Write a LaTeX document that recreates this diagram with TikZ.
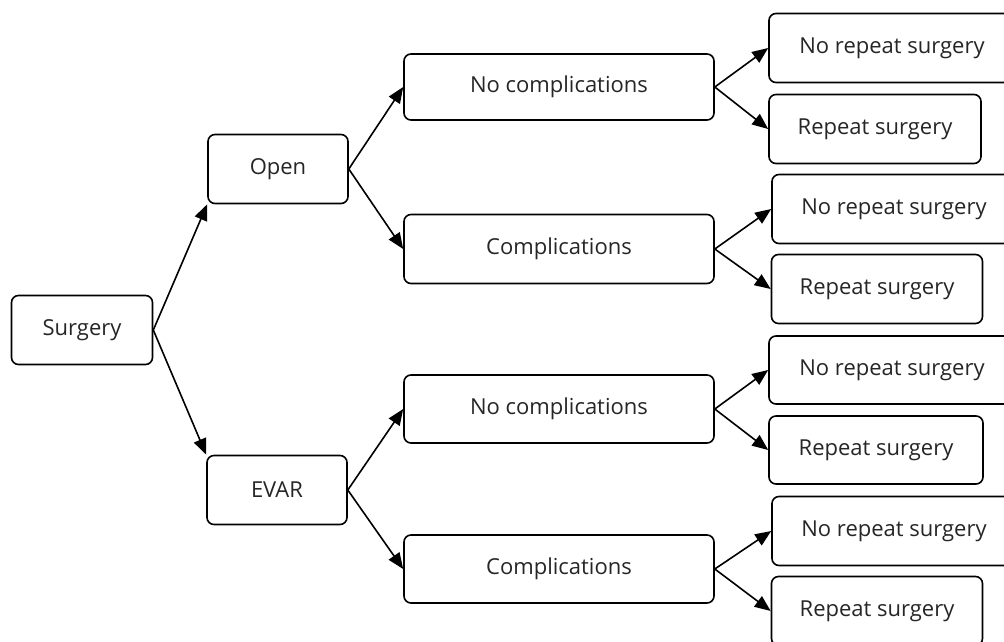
\documentclass[tikz,border=0pt]{standalone}
\usepackage{fontspec}
\setmainfont{Open Sans}
\usetikzlibrary{arrows.meta}
\begin{document}
\begin{tikzpicture}[x=1pt,y=-1pt,
  box/.style={draw=black,line width=1.6pt,rounded corners=7pt,fill=white,inner sep=0pt,
    font=\fontsize{22}{26}\selectfont,text=black!85},
  conn/.style={line width=1.6pt,-{Triangle[length=16pt,width=13pt]}}]
\useasboundingbox (0,0) rectangle (1004,641);
\clip (0,0) rectangle (1004,641);
% level 0
\node[box,minimum width=141pt,minimum height=69pt] (s) at (82,330) {Surgery};
% level 1
\node[box,minimum width=140pt,minimum height=69pt] (open) at (278,169) {Open};
\node[box,minimum width=140pt,minimum height=69pt] (evar) at (277,490) {EVAR};
% level 2
\node[box,minimum width=310pt,minimum height=66pt] (nc1) at (559,87) {No complications};
\node[box,minimum width=310pt,minimum height=69pt] (c1) at (559,249) {Complications};
\node[box,minimum width=310pt,minimum height=68pt] (nc2) at (559,409) {No complications};
\node[box,minimum width=310pt,minimum height=68pt] (c2) at (559,569) {Complications};
% level 3
\node[box,minimum width=246pt,minimum height=69pt] (nr1) at (892,48) {No repeat surgery};
\node[box,minimum width=212pt,minimum height=69pt] (r1) at (875,129) {Repeat surgery};
\node[box,minimum width=244pt,minimum height=69pt] (nr2) at (894,209) {No repeat surgery};
\node[box,minimum width=211pt,minimum height=69pt] (r2) at (877,289) {Repeat surgery};
\node[box,minimum width=246pt,minimum height=68pt] (nr3) at (892,370) {No repeat surgery};
\node[box,minimum width=214pt,minimum height=68pt] (r3) at (876,450) {Repeat surgery};
\node[box,minimum width=244pt,minimum height=69pt] (nr4) at (894,531) {No repeat surgery};
\node[box,minimum width=211pt,minimum height=69pt] (r4) at (877,611) {Repeat surgery};
% connectors
\draw[conn] (s.east) -- (open.south west);
\draw[conn] (s.east) -- (evar.north west);
\draw[conn] (open.east) -- (nc1.west);
\draw[conn] (open.east) -- (c1.west);
\draw[conn] (evar.east) -- (nc2.west);
\draw[conn] (evar.east) -- (c2.west);
\draw[conn] (nc1.east) -- (nr1.west);
\draw[conn] (nc1.east) -- (r1.west);
\draw[conn] (c1.east) -- (nr2.west);
\draw[conn] (c1.east) -- (r2.west);
\draw[conn] (nc2.east) -- (nr3.west);
\draw[conn] (nc2.east) -- (r3.west);
\draw[conn] (c2.east) -- (nr4.west);
\draw[conn] (c2.east) -- (r4.west);
\end{tikzpicture}
\end{document}
